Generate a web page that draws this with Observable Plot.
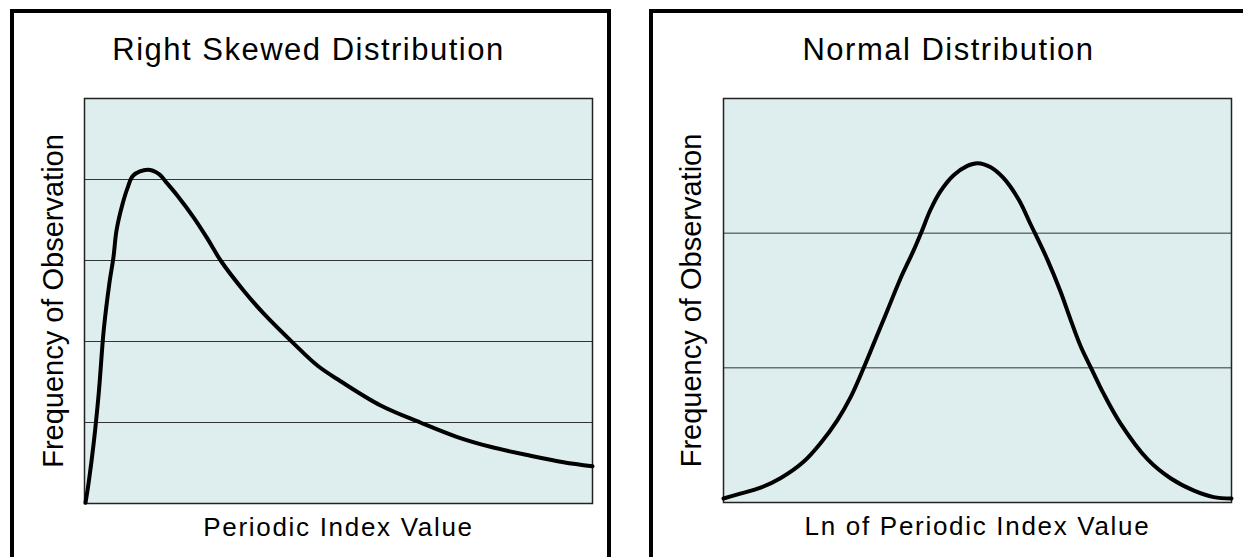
<!DOCTYPE html>
<html>
<head>
<meta charset="utf-8">
<script src="https://cdn.jsdelivr.net/npm/d3@7"></script>
<script src="https://cdn.jsdelivr.net/npm/@observablehq/plot@0.6"></script>
<style>
  html, body { margin: 0; padding: 0; background: #fff; overflow: hidden; }
  #wrap { position: relative; width: 1243px; height: 557px; overflow: hidden; background: #fff; }
  .panel { position: absolute; box-sizing: border-box; border: 4px solid #000; z-index: 2; pointer-events: none; }
  .chart { position: absolute; top: 0; z-index: 1; }
  .chart svg { overflow: visible; background: transparent; max-width: none; }
</style>
</head>
<body>
<div id="wrap">
  <div class="panel" style="left:10px; top:9px; width:601px; height:700px;"></div>
  <div class="panel" style="left:649px; top:9px; width:700px; height:700px;"></div>
  <div class="chart" id="left" style="left:0px;"></div>
  <div class="chart" id="right" style="left:620px;"></div>
</div>
<script>
// Right skewed distribution (x: index value 0-100, y: relative frequency)
const skewX = [0.2, 0.8, 1.8, 2.8, 3.8, 4.9, 5.7, 6.3, 7.5, 8.5, 9.6, 12.4, 14.6, 16.3, 18.3, 21.5, 24.2, 26.8, 31.3, 35.2, 41.1, 45.9, 50.4, 58.3, 66.1, 73.4, 79.9, 87.8, 94.3, 100];
const skewY = [0.01, 0.25, 0.74, 1.36, 2.15, 2.72, 3.04, 3.37, 3.70, 3.90, 4.05, 4.12, 4.07, 3.95, 3.80, 3.53, 3.27, 3.00, 2.63, 2.35, 1.98, 1.70, 1.51, 1.21, 1.00, 0.82, 0.70, 0.59, 0.51, 0.46];
// Normal distribution (x: ln of index value 0-100, y: relative frequency)
const normX = [0, 2.8, 7.3, 11.2, 15.7, 19.1, 22.4, 25.0, 27.6, 29.9, 32.3, 34.8, 37.4, 39.2, 40.7, 42.7, 45.3, 48.0, 50.0, 52.6, 55.1, 58.1, 60.4, 63.8, 66.3, 68.3, 70.3, 72.6, 74.8, 78.1, 83.5, 88.0, 92.5, 96.5, 100];
const normY = [0.03, 0.06, 0.11, 0.18, 0.30, 0.44, 0.61, 0.78, 1.00, 1.21, 1.43, 1.66, 1.87, 2.03, 2.17, 2.31, 2.43, 2.50, 2.52, 2.49, 2.41, 2.25, 2.07, 1.80, 1.57, 1.36, 1.16, 0.98, 0.81, 0.59, 0.32, 0.18, 0.09, 0.04, 0.03];
const skewGrid = [1, 2, 3, 4];
const normGrid = [1, 2];

const titles = ["Right Skewed Distribution", "Normal Distribution"];
const yLabel = "Frequency of Observation";
const xLabels = ["Periodic Index Value", "Ln of Periodic Index Value"];

const FONT = "'Liberation Sans', Arial, Helvetica, sans-serif";
const BG = "#deeeee";

function panel({xs, ys, grid, yMax, title, xLabel, width, marginLeft, marginRight, marginBottom, titleDx, yLabelDx}) {
  const data = xs.map((x, i) => ({x, y: ys[i]}));
  return Plot.plot({
    width, height: 557,
    marginLeft, marginRight, marginTop: 98, marginBottom,
    style: {fontFamily: FONT, background: "transparent", overflow: "visible"},
    x: {domain: [0, 100], axis: null},
    y: {domain: [0, yMax], axis: null},
    marks: [
      Plot.frame({fill: BG, stroke: null}),
      Plot.ruleY(grid, {stroke: "#333", strokeWidth: 1}),
      Plot.frame({stroke: "#222", strokeWidth: 1.5}),
      Plot.line(data, {x: "x", y: "y", curve: "catmull-rom", stroke: "#000", strokeWidth: 4, strokeLinejoin: "round", strokeLinecap: "round"}),
      Plot.text([title], {frameAnchor: "top", textAnchor: "middle", lineAnchor: "bottom", dy: -39, dx: titleDx, fontSize: 31, fill: "#000"}),
      Plot.text([xLabel], {frameAnchor: "bottom", textAnchor: "middle", lineAnchor: "bottom", dy: 32, fontSize: 26, fill: "#000"}),
      Plot.text([yLabel], {frameAnchor: "left", textAnchor: "middle", rotate: -90, lineAnchor: "bottom", dx: yLabelDx, fontSize: 29, fill: "#000"})
    ]
  });
}

const left = panel({xs: skewX, ys: skewY, grid: skewGrid, yMax: 5, title: titles[0], xLabel: xLabels[0],
  width: 620, marginLeft: 84, marginRight: 28, marginBottom: 54, titleDx: -30, yLabelDx: -22});
const right = panel({xs: normX, ys: normY, grid: normGrid, yMax: 3, title: titles[1], xLabel: xLabels[1],
  width: 623, marginLeft: 103, marginRight: 12, marginBottom: 55, titleDx: -29, yLabelDx: -23});

document.getElementById("left").appendChild(left);
document.getElementById("right").appendChild(right);
// horizontal text in the reference is slightly wide: add letter spacing
document.querySelectorAll("svg text").forEach(t => {
  const txt = t.textContent;
  if (xLabels.includes(txt)) t.setAttribute("letter-spacing", "1.7");
  if (titles.includes(txt)) t.setAttribute("letter-spacing", "1.5");
});
</script>
</body>
</html>
